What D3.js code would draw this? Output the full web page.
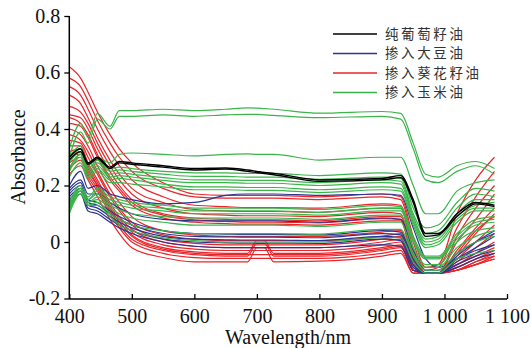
<!DOCTYPE html>
<html>
<head>
<meta charset="utf-8">
<script src="https://cdn.jsdelivr.net/npm/d3@7"></script>
<style>
  body { margin: 0; background: #fff; }
  svg { display: block; }
</style>
</head>
<body>
<div id="chart"></div>
<script>
// wavelengths (nm) at which each spectrum is sampled
const wavelengths = [400, 418, 430, 445, 465, 480, 500, 550, 600, 650, 685, 700, 712, 727, 800, 900, 930, 950, 970, 990, 1020, 1050, 1080];

const xTickValues = [400, 500, 600, 700, 800, 900, 1000, 1100];
const xTickLabels = ["400", "500", "600", "700", "800", "900", "1 000", "1 100"];
const yTickValues = [-0.2, 0, 0.2, 0.4, 0.6, 0.8];
const yTickLabels = ["-0.2", "0", "0.2", "0.4", "0.6", "0.8"];

const legendLabels = ["纯葡萄籽油", "掺入大豆油", "掺入葵花籽油", "掺入玉米油"];

// pure grape seed oil
const pureGrape = [
  [0.30, 0.33, 0.28, 0.30, 0.265, 0.285, 0.28, 0.27, 0.26, 0.262, 0.255, 0.25, 0.246, 0.243, 0.22, 0.225, 0.235, 0.15, 0.03, 0.03, 0.10, 0.14, 0.13],
  [0.29, 0.32, 0.275, 0.295, 0.26, 0.28, 0.275, 0.265, 0.255, 0.258, 0.25, 0.246, 0.242, 0.238, 0.215, 0.22, 0.228, 0.14, 0.02, 0.025, 0.09, 0.135, 0.125]
];

// adulterated with soybean oil
const soybean = [
  [0.20, 0.25, 0.19, 0.20, 0.17, 0.16, 0.15, 0.135, 0.14, 0.165, 0.17, 0.17, 0.17, 0.17, 0.165, 0.17, 0.165, 0.05, -0.06, -0.09, -0.06, -0.03, -0.01],
  [0.19, 0.22, 0.17, 0.17, 0.14, 0.12, 0.10, 0.08, 0.075, 0.075, 0.075, 0.075, 0.075, 0.075, 0.07, 0.085, 0.08, -0.03, -0.10, -0.10, -0.04, 0.0, 0.03],
  [0.18, 0.21, 0.15, 0.14, 0.11, 0.09, 0.07, 0.04, 0.03, 0.028, 0.027, 0.027, 0.027, 0.027, 0.025, 0.04, 0.035, -0.06, -0.11, -0.11, -0.05, 0.0, 0.04],
  [0.17, 0.20, 0.14, 0.13, 0.10, 0.08, 0.06, 0.03, 0.02, 0.018, 0.017, 0.017, 0.017, 0.017, 0.015, 0.03, 0.025, -0.07, -0.11, -0.11, -0.06, -0.02, 0.02],
  [0.16, 0.19, 0.13, 0.12, 0.09, 0.07, 0.05, 0.02, 0.01, 0.008, 0.007, 0.007, 0.007, 0.007, 0.005, 0.02, 0.015, -0.08, -0.11, -0.11, -0.07, -0.04, -0.01],
  [0.15, 0.18, 0.12, 0.11, 0.08, 0.06, 0.04, 0.01, 0.0, -0.003, -0.004, -0.004, -0.004, -0.004, -0.005, 0.01, 0.005, -0.09, -0.11, -0.11, -0.08, -0.05, -0.03],
  [0.14, 0.17, 0.11, 0.10, 0.07, 0.05, 0.03, 0.0, -0.015, -0.02, -0.02, -0.02, -0.02, -0.02, -0.02, -0.01, -0.015, -0.10, -0.11, -0.11, -0.09, -0.06, -0.04]
];

// adulterated with sunflower seed oil
const sunflower = [
  [0.62, 0.58, 0.53, 0.46, 0.38, 0.33, 0.28, 0.21, 0.17, 0.165, 0.165, 0.165, 0.165, 0.165, 0.16, 0.17, 0.16, 0.02, -0.09, -0.08, 0.10, 0.22, 0.30],
  [0.58, 0.55, 0.50, 0.43, 0.35, 0.30, 0.25, 0.19, 0.16, 0.155, 0.155, 0.155, 0.155, 0.155, 0.15, 0.16, 0.15, 0.0, -0.10, -0.09, 0.05, 0.16, 0.25],
  [0.55, 0.52, 0.47, 0.40, 0.32, 0.27, 0.22, 0.16, 0.13, 0.125, 0.122, 0.122, 0.122, 0.122, 0.12, 0.135, 0.13, -0.02, -0.11, -0.11, 0.02, 0.12, 0.20],
  [0.52, 0.49, 0.44, 0.37, 0.29, 0.24, 0.19, 0.14, 0.115, 0.11, 0.108, 0.108, 0.108, 0.108, 0.105, 0.12, 0.12, -0.04, -0.11, -0.11, 0.0, 0.08, 0.17],
  [0.48, 0.46, 0.42, 0.35, 0.27, 0.22, 0.17, 0.12, 0.10, 0.095, 0.093, 0.093, 0.093, 0.093, 0.09, 0.105, 0.10, -0.05, -0.11, -0.11, -0.03, 0.05, 0.12],
  [0.45, 0.44, 0.40, 0.33, 0.25, 0.20, 0.15, 0.10, 0.085, 0.08, 0.078, 0.078, 0.078, 0.078, 0.075, 0.09, 0.09, -0.06, -0.11, -0.11, -0.05, 0.03, 0.10],
  [0.44, 0.42, 0.38, 0.31, 0.23, 0.19, 0.14, 0.095, 0.078, 0.073, 0.07, 0.07, 0.07, 0.07, 0.068, 0.083, 0.08, -0.06, -0.11, -0.11, -0.04, 0.04, 0.09],
  [0.42, 0.41, 0.37, 0.30, 0.22, 0.18, 0.13, 0.085, 0.07, 0.065, 0.063, 0.063, 0.063, 0.063, 0.06, 0.075, 0.075, -0.07, -0.11, -0.11, -0.06, 0.0, 0.06],
  [0.40, 0.38, 0.34, 0.27, 0.19, 0.14, 0.09, 0.04, 0.025, 0.02, 0.02, 0.02, 0.02, 0.02, 0.02, 0.035, 0.04, -0.08, -0.11, -0.11, -0.07, -0.02, 0.03],
  [0.38, 0.36, 0.32, 0.25, 0.17, 0.12, 0.07, 0.025, 0.01, 0.005, 0.005, 0.005, 0.005, 0.005, 0.005, 0.02, 0.03, -0.09, -0.11, -0.11, -0.08, -0.04, 0.0],
  [0.36, 0.35, 0.30, 0.24, 0.16, 0.11, 0.06, 0.01, -0.005, -0.01, -0.01, -0.01, -0.01, -0.01, -0.01, 0.01, 0.02, -0.09, -0.11, -0.11, -0.08, -0.05, -0.02],
  [0.34, 0.34, 0.28, 0.22, 0.14, 0.09, 0.045, 0.0, -0.015, -0.02, -0.02, -0.02, -0.02, -0.02, -0.02, 0.0, 0.01, -0.10, -0.11, -0.11, -0.09, -0.06, -0.03],
  [0.32, 0.33, 0.27, 0.21, 0.13, 0.08, 0.035, -0.01, -0.025, -0.03, -0.03, -0.03, -0.03, -0.03, -0.03, -0.01, 0.0, -0.10, -0.11, -0.11, -0.09, -0.06, -0.04],
  [0.31, 0.31, 0.25, 0.20, 0.12, 0.07, 0.02, -0.025, -0.04, -0.045, -0.045, -0.045, -0.045, -0.045, -0.045, -0.025, -0.015, -0.10, -0.11, -0.11, -0.10, -0.07, -0.04],
  [0.30, 0.32, 0.26, 0.20, 0.12, 0.07, 0.025, -0.02, -0.035, -0.04, -0.04, 0.005, 0.005, -0.04, -0.04, -0.02, -0.01, -0.10, -0.11, -0.11, -0.10, -0.07, -0.05],
  [0.28, 0.30, 0.24, 0.19, 0.11, 0.06, 0.01, -0.03, -0.045, -0.05, -0.05, -0.005, -0.005, -0.05, -0.05, -0.03, -0.02, -0.10, -0.11, -0.11, -0.10, -0.08, -0.06],
  [0.26, 0.29, 0.23, 0.18, 0.10, 0.05, 0.0, -0.04, -0.055, -0.058, -0.058, -0.058, -0.058, -0.058, -0.058, -0.04, -0.03, -0.11, -0.11, -0.11, -0.10, -0.08, -0.05],
  [0.24, 0.27, 0.22, 0.16, 0.08, 0.03, -0.02, -0.055, -0.07, -0.07, -0.07, -0.02, -0.02, -0.07, -0.068, -0.05, -0.04, -0.11, -0.11, -0.11, -0.10, -0.08, -0.06]
];

// adulterated with corn oil
const corn = [
  [0.33, 0.42, 0.37, 0.455, 0.41, 0.465, 0.465, 0.47, 0.465, 0.47, 0.475, 0.474, 0.472, 0.47, 0.456, 0.462, 0.455, 0.35, 0.24, 0.23, 0.27, 0.285, 0.26],
  [0.30, 0.39, 0.35, 0.435, 0.40, 0.445, 0.445, 0.45, 0.445, 0.45, 0.452, 0.452, 0.45, 0.448, 0.44, 0.445, 0.435, 0.33, 0.22, 0.21, 0.25, 0.27, 0.24],
  [0.26, 0.31, 0.28, 0.30, 0.28, 0.31, 0.315, 0.31, 0.305, 0.31, 0.312, 0.31, 0.31, 0.31, 0.29, 0.30, 0.30, 0.20, 0.10, 0.10, 0.18, 0.21, 0.22],
  [0.30, 0.34, 0.27, 0.30, 0.26, 0.265, 0.26, 0.25, 0.245, 0.245, 0.243, 0.243, 0.243, 0.243, 0.235, 0.245, 0.24, 0.12, 0.05, 0.06, 0.14, 0.19, 0.18],
  [0.29, 0.33, 0.26, 0.29, 0.25, 0.255, 0.25, 0.24, 0.232, 0.232, 0.23, 0.23, 0.23, 0.23, 0.222, 0.23, 0.225, 0.10, 0.03, 0.04, 0.12, 0.17, 0.16],
  [0.28, 0.32, 0.25, 0.28, 0.24, 0.245, 0.24, 0.228, 0.22, 0.22, 0.218, 0.218, 0.218, 0.218, 0.21, 0.22, 0.215, 0.09, 0.01, 0.02, 0.10, 0.15, 0.15],
  [0.26, 0.31, 0.24, 0.27, 0.23, 0.235, 0.23, 0.218, 0.21, 0.21, 0.208, 0.208, 0.208, 0.208, 0.20, 0.21, 0.205, 0.08, 0.0, 0.01, 0.09, 0.13, 0.14],
  [0.25, 0.30, 0.23, 0.26, 0.22, 0.225, 0.22, 0.205, 0.195, 0.195, 0.193, 0.193, 0.193, 0.193, 0.185, 0.195, 0.19, 0.07, -0.01, 0.0, 0.08, 0.12, 0.12],
  [0.23, 0.28, 0.22, 0.25, 0.21, 0.21, 0.205, 0.195, 0.185, 0.185, 0.183, 0.183, 0.183, 0.183, 0.175, 0.185, 0.18, 0.06, -0.02, -0.01, 0.07, 0.11, 0.11],
  [0.14, 0.20, 0.16, 0.19, 0.16, 0.15, 0.14, 0.13, 0.12, 0.12, 0.12, 0.12, 0.12, 0.12, 0.115, 0.13, 0.125, 0.02, -0.05, -0.05, 0.03, 0.08, 0.09],
  [0.13, 0.19, 0.15, 0.18, 0.15, 0.14, 0.13, 0.12, 0.11, 0.11, 0.11, 0.11, 0.11, 0.11, 0.105, 0.12, 0.118, 0.01, -0.055, -0.055, 0.02, 0.07, 0.08],
  [0.12, 0.19, 0.15, 0.17, 0.14, 0.13, 0.12, 0.11, 0.10, 0.10, 0.10, 0.10, 0.10, 0.10, 0.095, 0.11, 0.11, 0.0, -0.06, -0.06, 0.01, 0.06, 0.07],
  [0.11, 0.18, 0.14, 0.16, 0.13, 0.115, 0.10, 0.09, 0.085, 0.085, 0.085, 0.085, 0.085, 0.085, 0.08, 0.095, 0.095, -0.02, -0.08, -0.08, 0.0, 0.04, 0.05],
  [0.11, 0.17, 0.14, 0.15, 0.12, 0.10, 0.085, 0.07, 0.06, 0.06, 0.06, 0.06, 0.06, 0.06, 0.055, 0.07, 0.07, -0.04, -0.09, -0.09, -0.02, 0.02, 0.04],
  [0.10, 0.17, 0.13, 0.14, 0.10, 0.08, 0.06, 0.04, 0.03, 0.03, 0.03, 0.03, 0.03, 0.03, 0.028, 0.045, 0.045, -0.05, -0.10, -0.10, -0.04, 0.0, 0.02],
  [0.12, 0.18, 0.13, 0.13, 0.09, 0.06, 0.04, 0.015, 0.005, 0.0, 0.0, 0.0, 0.0, 0.0, 0.0, 0.015, 0.015, -0.07, -0.11, -0.11, -0.06, -0.04, -0.03]
];

const WIDTH = 531, HEIGHT = 348;
const PLOT = { left: 69.3, right: 507, top: 16, bottom: 298.5 };

const COLORS = ["#000000", "#2a3593", "#e8262b", "#3bb54a"];
const serif = "'Liberation Serif', 'Times New Roman', serif";

const svg = d3.select("#chart").append("svg")
    .attr("width", WIDTH)
    .attr("height", HEIGHT)
    .style("background", "#fff");

const xScale = d3.scaleLinear().domain([400, 1100]).range([PLOT.left, PLOT.right]);
const yScale = d3.scaleLinear().domain([-0.2, 0.8]).range([PLOT.bottom, PLOT.top]);

const line = d3.line()
    .x((d, i) => xScale(wavelengths[i]))
    .y(d => yScale(d))
    .curve(d3.curveMonotoneX);

// draw order: sunflower, soybean, corn, pure
const groups = [
    { data: sunflower, color: COLORS[2] },
    { data: soybean, color: COLORS[1] },
    { data: corn, color: COLORS[3] },
    { data: pureGrape, color: COLORS[0] }
];

const linesG = svg.append("g");
groups.forEach(g => {
    linesG.selectAll(null)
        .data(g.data)
        .enter()
        .append("path")
        .attr("d", line)
        .attr("fill", "none")
        .attr("stroke", g.color)
        .attr("stroke-width", g.color === COLORS[0] ? 1.4 : 1.2)
        .attr("stroke-linejoin", "round");
});

// axes
const xAxis = svg.append("g")
    .attr("transform", "translate(0," + (PLOT.bottom + 0.5) + ")")
    .call(d3.axisBottom(xScale)
        .tickValues(xTickValues)
        .tickSize(-5)
        .tickPadding(10)
        .tickFormat((d, i) => xTickLabels[i]));

const yAxis = svg.append("g")
    .attr("transform", "translate(" + PLOT.left + ",0)")
    .call(d3.axisLeft(yScale)
        .tickValues(yTickValues)
        .tickSize(5)
        .tickPadding(4)
        .tickFormat((d, i) => yTickLabels[i]));

[xAxis, yAxis].forEach(a => {
    a.select(".domain").attr("stroke", "#000").attr("stroke-width", 1.5);
    a.selectAll(".tick line").attr("stroke", "#000").attr("stroke-width", 1.3);
    a.selectAll(".tick text")
        .attr("fill", "#111")
        .style("font-family", serif)
        .style("font-size", "20px");
});
xAxis.select(".domain").attr("d", "M" + PLOT.left + ",0H" + PLOT.right);
yAxis.select(".domain").attr("d", "M0," + (PLOT.bottom + 0.5) + "V" + PLOT.top);

// axis titles
svg.append("text")
    .attr("x", 288)
    .attr("y", 344)
    .attr("text-anchor", "middle")
    .attr("fill", "#111")
    .style("font-family", serif)
    .style("font-size", "20px")
    .text("Wavelength/nm");

svg.append("text")
    .attr("transform", "translate(25,157) rotate(-90)")
    .attr("text-anchor", "middle")
    .attr("fill", "#111")
    .style("font-family", serif)
    .style("font-size", "20px")
    .text("Absorbance");

// legend
const legend = svg.append("g").attr("transform", "translate(333,34)");
legendLabels.forEach((label, i) => {
    const row = legend.append("g").attr("transform", "translate(0," + i * 19.5 + ")");
    row.append("line")
        .attr("x1", 0).attr("x2", 44)
        .attr("y1", 0).attr("y2", 0)
        .attr("stroke", COLORS[i])
        .attr("stroke-width", 1.4);
    row.append("text")
        .attr("x", 52)
        .attr("y", 0)
        .attr("dy", "0.36em")
        .attr("fill", "#333")
        .attr("letter-spacing", "2.6px")
        .style("font-family", "'Noto Sans CJK SC', sans-serif")
        .style("font-size", "13.5px")
        .text(label);
});
</script>
</body>
</html>
